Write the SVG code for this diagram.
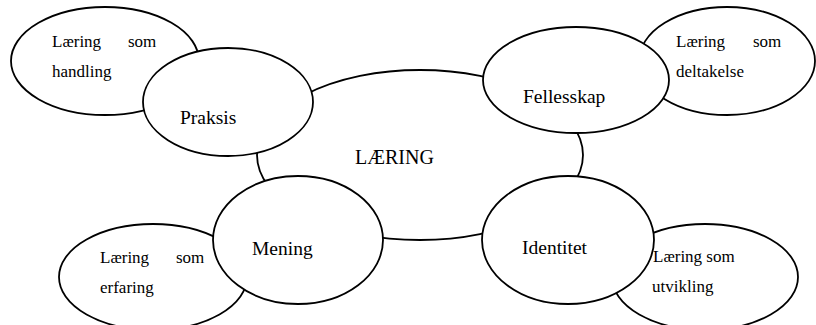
<svg xmlns="http://www.w3.org/2000/svg" width="816" height="325" viewBox="0 0 816 325">
<style>
.e{fill:#fff;stroke:#000;stroke-width:1.8}
.s{font-family:'Liberation Serif','DejaVu Serif',serif;font-size:17px;fill:#000}
.b{font-family:'Liberation Serif','DejaVu Serif',serif;font-size:19.5px;fill:#000}
</style>
<rect width="816" height="325" fill="#fff"/>
<g id="laering">
<ellipse class="e" cx="420" cy="155" rx="163" ry="85"/>
<text class="b" x="355" y="164" style="font-size:20px">LÆRING</text>
</g>
<g id="handling">
<ellipse class="e" cx="105" cy="61" rx="94" ry="54"/>
<text class="s" x="52" y="47">Læring</text>
<text class="s" x="128" y="47">som</text>
<text class="s" x="52" y="77">handling</text>
</g>
<g id="deltakelse">
<ellipse class="e" cx="727" cy="61" rx="88" ry="54"/>
<text class="s" x="676" y="47">Læring</text>
<text class="s" x="753" y="47">som</text>
<text class="s" x="676" y="77">deltakelse</text>
</g>
<g id="erfaring">
<ellipse class="e" cx="153" cy="277" rx="94" ry="53"/>
<text class="s" x="100" y="263">Læring</text>
<text class="s" x="176" y="263">som</text>
<text class="s" x="100" y="293">erfaring</text>
</g>
<g id="utvikling">
<ellipse class="e" cx="705" cy="277" rx="93" ry="53"/>
<text class="s" x="653" y="262">Læring som</text>
<text class="s" x="652" y="292">utvikling</text>
</g>
<g id="praksis">
<ellipse class="e" cx="228" cy="102" rx="85" ry="54"/>
<text class="b" x="180" y="124">Praksis</text>
</g>
<g id="fellesskap">
<ellipse class="e" cx="576" cy="80" rx="93" ry="53"/>
<text class="b" x="523" y="103">Fellesskap</text>
</g>
<g id="mening">
<ellipse class="e" cx="298" cy="240" rx="85" ry="64"/>
<text class="b" x="252" y="255">Mening</text>
</g>
<g id="identitet">
<ellipse class="e" cx="568" cy="240" rx="86" ry="64"/>
<text class="b" x="522" y="254">Identitet</text>
</g>
<g id="connectors"></g>
</svg>
